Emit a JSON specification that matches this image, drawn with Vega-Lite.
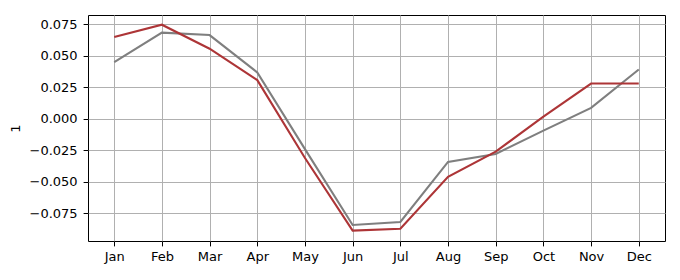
{
  "$schema": "https://vega.github.io/schema/vega-lite/v6.json",
  "width": 577,
  "height": 226,
  "autosize": {"type": "none"},
  "padding": {"left": 88, "top": 15, "right": 15, "bottom": 39},
  "background": "white",
  "config": {
    "view": {"stroke": "black", "strokeWidth": 1},
    "font": "DejaVu Sans",
    "axis": {
      "labelFont": "DejaVu Sans",
      "labelFontSize": 13,
      "labelColor": "black",
      "titleFont": "DejaVu Sans",
      "titleFontSize": 13,
      "titleFontWeight": "normal",
      "titleColor": "black",
      "domain": false,
      "tickColor": "black",
      "tickSize": 4.9,
      "tickWidth": 1,
      "labelPadding": 5,
      "gridColor": "#b0b0b0",
      "gridWidth": 1,
      "gridOpacity": 1
    }
  },
  "data": {
    "values": [
      {"month": "Jan", "series": "gray", "value": 0.0450},
      {"month": "Feb", "series": "gray", "value": 0.0683},
      {"month": "Mar", "series": "gray", "value": 0.0664},
      {"month": "Apr", "series": "gray", "value": 0.0368},
      {"month": "May", "series": "gray", "value": -0.0240},
      {"month": "Jun", "series": "gray", "value": -0.0841},
      {"month": "Jul", "series": "gray", "value": -0.0817},
      {"month": "Aug", "series": "gray", "value": -0.0341},
      {"month": "Sep", "series": "gray", "value": -0.0278},
      {"month": "Oct", "series": "gray", "value": -0.0093},
      {"month": "Nov", "series": "gray", "value": 0.0087},
      {"month": "Dec", "series": "gray", "value": 0.0391},
      {"month": "Jan", "series": "red", "value": 0.0648},
      {"month": "Feb", "series": "red", "value": 0.0746},
      {"month": "Mar", "series": "red", "value": 0.0556},
      {"month": "Apr", "series": "red", "value": 0.0307},
      {"month": "May", "series": "red", "value": -0.0310},
      {"month": "Jun", "series": "red", "value": -0.0886},
      {"month": "Jul", "series": "red", "value": -0.0871},
      {"month": "Aug", "series": "red", "value": -0.0460},
      {"month": "Sep", "series": "red", "value": -0.0260},
      {"month": "Oct", "series": "red", "value": 0.0018},
      {"month": "Nov", "series": "red", "value": 0.0280},
      {"month": "Dec", "series": "red", "value": 0.0280}
    ]
  },
  "encoding": {
    "x": {
      "field": "month",
      "type": "ordinal",
      "sort": ["Jan","Feb","Mar","Apr","May","Jun","Jul","Aug","Sep","Oct","Nov","Dec"],
      "scale": {"type": "point", "padding": 0.55},
      "axis": {"title": null, "labelAngle": 0, "grid": true}
    },
    "y": {
      "field": "value",
      "type": "quantitative",
      "scale": {"domain": [-0.0968, 0.0823], "nice": false, "zero": false},
      "axis": {
        "title": "1",
        "values": [-0.075, -0.05, -0.025, 0, 0.025, 0.05, 0.075],
        "format": ".3f",
        "grid": true,
        "labelPadding": 6,
        "titlePadding": 6
      }
    }
  },
  "layer": [
    {
      "transform": [{"filter": "datum.series === 'gray'"}],
      "mark": {"type": "line", "color": "#7f7f7f", "strokeWidth": 2.1}
    },
    {
      "transform": [{"filter": "datum.series === 'red'"}],
      "mark": {"type": "line", "color": "#ad3537", "strokeWidth": 2.1}
    }
  ]
}
